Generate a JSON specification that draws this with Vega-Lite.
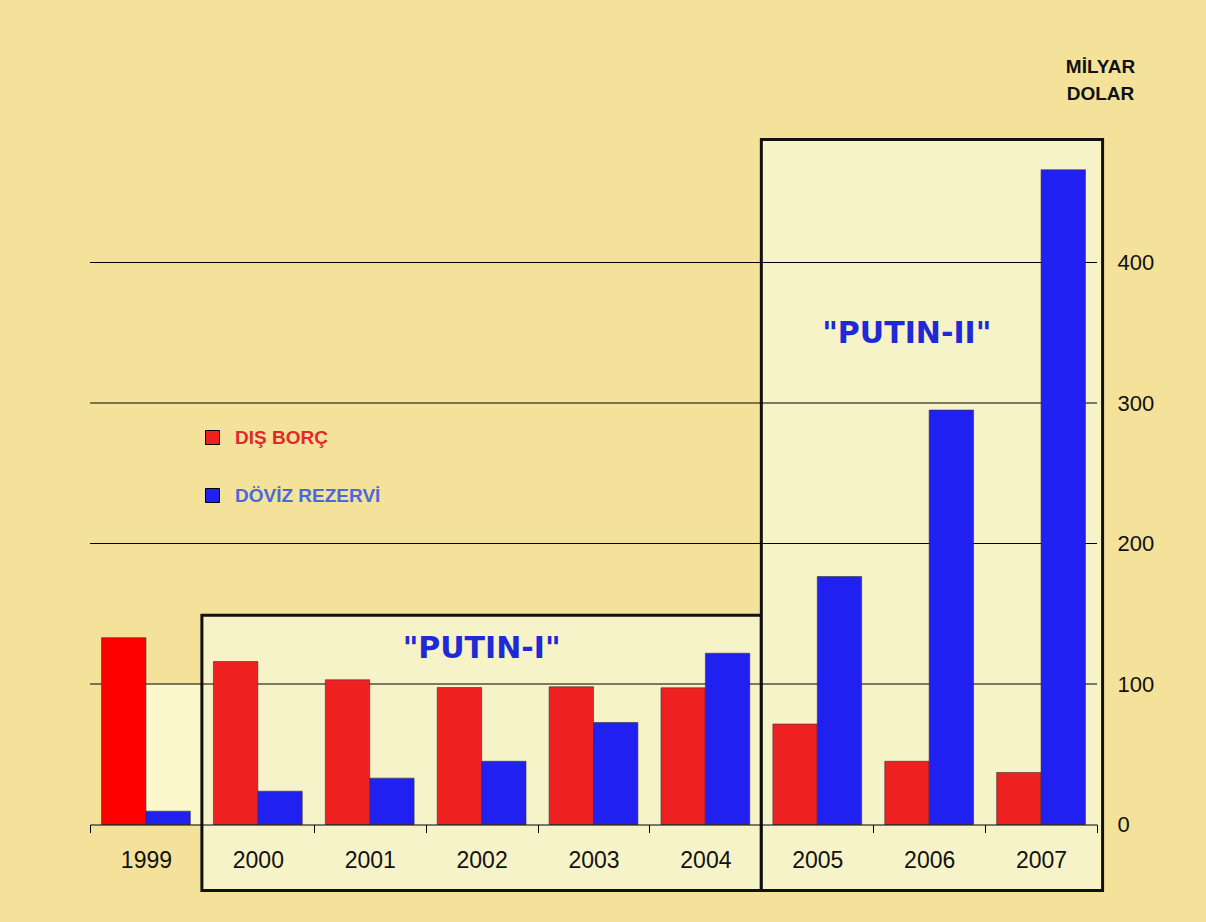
{
  "$schema": "https://vega.github.io/schema/vega-lite/v6.json",
  "width": 1007,
  "height": 702.5,
  "autosize": {"type": "none"},
  "padding": {"left": 90, "top": 122, "right": 109, "bottom": 97.5},
  "background": "#F4E29B",
  "config": {
    "view": {"stroke": null},
    "axisY": {
      "titleAngle": 0, "titleAlign": "center", "titleBaseline": "alphabetic", "titleX": 3, "titleY": -50,
      "titleFont": "Liberation Sans", "titleFontWeight": "bold", "titleFontSize": 19, "titleLineHeight": 27,
      "titleColor": "#111111", "ticks": false, "domain": false, "grid": false,
      "labelFont": "Liberation Sans", "labelFontSize": 22, "labelColor": "#111111", "labelPadding": 20
    }
  },
  "resolve": {"scale": {"x": "independent"}, "axis": {"x": "independent"}},
  "layer": [
    {
      "data": {"values": [{"from": 0.45, "to": 1, "low": 0, "high": 100}]},
      "mark": {"type": "rect", "fill": "#FCF8CE"},
      "encoding": {
        "x": {"field": "from", "type": "quantitative", "scale": {"domain": [0, 9], "nice": false, "zero": false}, "axis": null},
        "x2": {"field": "to"},
        "y": {"field": "low", "type": "quantitative", "scale": {"domain": [0, 500], "nice": false, "zero": false},
              "axis": {"orient": "right", "title": ["MİLYAR", "DOLAR"], "values": [0, 100, 200, 300, 400]}},
        "y2": {"field": "high"}
      }
    },
    {
      "data": {"values": [
        {"period": "PUTIN-I", "from": 1, "to": 6, "low": -47, "high": 149},
        {"period": "PUTIN-II", "from": 6, "to": 9.05, "low": -47, "high": 487.5}
      ]},
      "mark": {"type": "rect", "fill": "#F6F3C9", "stroke": "#111111", "strokeWidth": 3},
      "encoding": {
        "x": {"field": "from", "type": "quantitative", "scale": {"domain": [0, 9], "nice": false, "zero": false}, "axis": null},
        "x2": {"field": "to"},
        "y": {"field": "low", "type": "quantitative", "scale": {"domain": [0, 500], "nice": false, "zero": false},
              "axis": {"orient": "right", "title": ["MİLYAR", "DOLAR"], "values": [0, 100, 200, 300, 400]}},
        "y2": {"field": "high"}
      }
    },
    {
      "data": {"values": [{"v": 100}, {"v": 200}, {"v": 300}, {"v": 400}]},
      "mark": {"type": "rule", "color": "#000000", "strokeWidth": 1},
      "encoding": {
        "y": {"field": "v", "type": "quantitative", "scale": {"domain": [0, 500], "nice": false, "zero": false},
              "axis": {"orient": "right", "title": ["MİLYAR", "DOLAR"], "values": [0, 100, 200, 300, 400]}}
      }
    },
    {
      "data": {"values": [
        {"year": "1999", "series": "DIŞ BORÇ", "value": 133},
        {"year": "1999", "series": "DÖVİZ REZERVİ", "value": 9.5},
        {"year": "2000", "series": "DIŞ BORÇ", "value": 116},
        {"year": "2000", "series": "DÖVİZ REZERVİ", "value": 23.7},
        {"year": "2001", "series": "DIŞ BORÇ", "value": 103},
        {"year": "2001", "series": "DÖVİZ REZERVİ", "value": 33},
        {"year": "2002", "series": "DIŞ BORÇ", "value": 97.5},
        {"year": "2002", "series": "DÖVİZ REZERVİ", "value": 45},
        {"year": "2003", "series": "DIŞ BORÇ", "value": 98},
        {"year": "2003", "series": "DÖVİZ REZERVİ", "value": 72.6},
        {"year": "2004", "series": "DIŞ BORÇ", "value": 97.3},
        {"year": "2004", "series": "DÖVİZ REZERVİ", "value": 121.9},
        {"year": "2005", "series": "DIŞ BORÇ", "value": 71.5},
        {"year": "2005", "series": "DÖVİZ REZERVİ", "value": 176.5},
        {"year": "2006", "series": "DIŞ BORÇ", "value": 45},
        {"year": "2006", "series": "DÖVİZ REZERVİ", "value": 295},
        {"year": "2007", "series": "DIŞ BORÇ", "value": 37},
        {"year": "2007", "series": "DÖVİZ REZERVİ", "value": 466}
      ]},
      "mark": {"type": "bar", "stroke": "#333333", "strokeWidth": 1, "strokeOpacity": 0.6},
      "encoding": {
        "x": {
          "field": "year", "type": "ordinal",
          "scale": {"paddingInner": 0, "paddingOuter": 0},
          "axis": {
            "title": null, "labelAngle": 0, "labelFont": "Liberation Sans", "labelFontSize": 23,
            "labelColor": "#111111", "labelPadding": 17, "tickBand": "extent", "tickColor": "#000000",
            "tickSize": 8, "domainColor": "#000000", "domainWidth": 1, "zindex": 1
          }
        },
        "xOffset": {
          "field": "series", "type": "nominal", "sort": ["DIŞ BORÇ", "DÖVİZ REZERVİ"],
          "scale": {"paddingOuter": 0.26, "paddingInner": 0}
        },
        "y": {
          "field": "value", "type": "quantitative",
          "scale": {"domain": [0, 500], "nice": false, "zero": false},
          "axis": {"orient": "right", "title": ["MİLYAR", "DOLAR"], "values": [0, 100, 200, 300, 400]}
        },
        "color": {
          "field": "series", "type": "nominal",
          "condition": {"test": "datum.year === '1999' && datum.series === 'DIŞ BORÇ'", "value": "#FF0000"},
          "scale": {"domain": ["DIŞ BORÇ", "DÖVİZ REZERVİ"], "range": ["#EE2020", "#2020F0"]},
          "legend": {
            "title": null, "orient": "none", "legendX": 113, "legendY": 306, "direction": "vertical",
            "symbolType": "square", "symbolSize": 196, "symbolStrokeColor": "#000000", "symbolStrokeWidth": 1,
            "labelFont": "Liberation Sans", "labelFontWeight": "bold", "labelFontSize": 19,
            "labelOffset": 13, "rowPadding": 38, "padding": 0,
            "encode": {"labels": {"update": {"fill": {"signal": "datum.value === 'DIŞ BORÇ' ? '#E02A2A' : '#4C68DC'"}}}}
          }
        }
      }
    },
    {
      "data": {"values": [
        {"label": "\"PUTIN-I\"", "px": 3.5, "py": 125},
        {"label": "\"PUTIN-II\"", "px": 7.3, "py": 349}
      ]},
      "mark": {"type": "text", "font": "DejaVu Sans", "fontWeight": "bold", "fontSize": 30, "color": "#1F2AD6", "align": "center", "baseline": "middle"},
      "encoding": {
        "x": {"field": "px", "type": "quantitative", "scale": {"domain": [0, 9], "nice": false, "zero": false}, "axis": null},
        "y": {"field": "py", "type": "quantitative", "scale": {"domain": [0, 500], "nice": false, "zero": false},
              "axis": {"orient": "right", "title": ["MİLYAR", "DOLAR"], "values": [0, 100, 200, 300, 400]}},
        "text": {"field": "label"}
      }
    }
  ]
}
